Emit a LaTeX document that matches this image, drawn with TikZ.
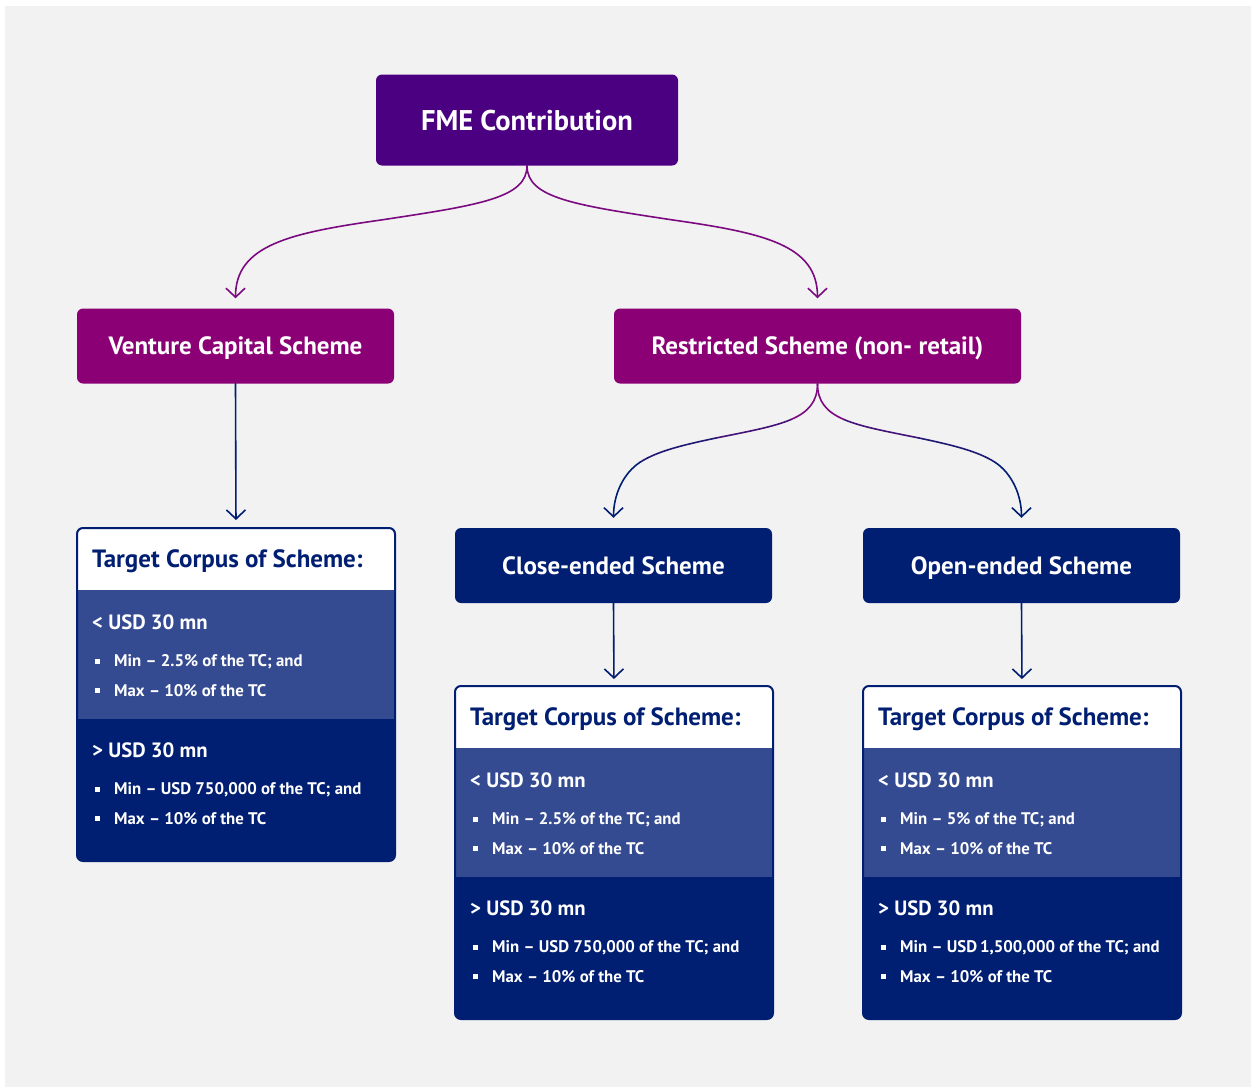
\documentclass[tikz,border=0pt]{standalone}
\usepackage{fontspec}
\setmainfont{PT Sans}
\usetikzlibrary{arrows.meta,positioning}

\definecolor{bggrey}{HTML}{F2F2F2}
\definecolor{fmeviolet}{HTML}{4B0082}
\definecolor{schemepurple}{HTML}{8B0075}
\definecolor{linkpurple}{HTML}{7B0A80}
\definecolor{navy}{HTML}{001E72}
\definecolor{lightnavy}{HTML}{354B91}

\tikzset{
  boxtext/.style={text=white, font=\bfseries\fontsize{25}{29}\selectfont, align=center, text depth=0pt},
  fmebox/.style={boxtext, fill=fmeviolet, rounded corners=6pt, font=\bfseries\fontsize{28.5}{32}\selectfont},
  schemebox/.style={boxtext, rounded corners=6pt, minimum width=317pt, minimum height=75pt},
  headtext/.style={anchor=west, inner sep=0pt, text=navy, font=\bfseries\fontsize{25}{29}\selectfont},
  bandtext/.style={anchor=west, inner sep=0pt, text=white, font=\bfseries\fontsize{20.7}{24}\selectfont},
  itemtext/.style={anchor=west, inner sep=0pt, text=white, font=\bfseries\fontsize{16.8}{20}\selectfont},
  tip/.style={-{Straight Barb[length=9pt,width=19pt]}},
  link/.style={line width=1.6pt, line cap=round},
}

\begin{document}
\begin{tikzpicture}[x=1pt,y=-1pt]
  \fill[white] (0,0) rectangle (1251,1087);
  \fill[bggrey] (5,6) rectangle (1251,1087);
  \useasboundingbox (0,0) rectangle (1251,1087);

  % top levels
  \node[fmebox, minimum width=302pt, minimum height=91pt] (fme) at (527,120) {FME Contribution};
  \node[schemebox, fill=schemepurple] (vcs) at (235.5,346) {Venture Capital Scheme};
  \node[schemebox, fill=schemepurple, minimum width=407pt] (rss) at (817.5,346) {Restricted Scheme (non- retail)};
  \node[schemebox, fill=navy] (ces) at (613.5,565.5) {Close-ended Scheme};
  \node[schemebox, fill=navy] (oes) at (1021.5,565.5) {Open-ended Scheme};

  % target corpus boxes
  \foreach \nm/\xa/\ya/\mina/\minb in {vct/77/528/{2.5\%}/{USD 750,000},
                                      cet/455/686/{2.5\%}/{USD 750,000},
                                      oet/863/686/{5\%}/{USD\,1,500,000}} {
    \begin{scope}
      \clip[rounded corners=6pt] (\xa,\ya) rectangle ++(318,333);
      \fill[white] (\xa,\ya) rectangle ++(318,62);
      \fill[lightnavy] (\xa,\ya+62) rectangle ++(318,129);
      \fill[navy] (\xa,\ya+191) rectangle ++(318,142);
    \end{scope}
    \draw[navy, line width=2pt, rounded corners=6pt] (\xa,\ya) rectangle ++(318,333);
    \coordinate (\nm-top) at (\xa+159,\ya);
    \node[headtext] (\nm-head) at (\xa+15,\ya+33) {Target Corpus of Scheme:};
    \node[bandtext] (\nm-lo) at (\xa+15,\ya+94) {< USD 30 mn};
    \fill[white] (\xa+18,\ya+131) rectangle ++(4.5,4.5);
    \node[itemtext] (\nm-lo1) at (\xa+37,\ya+134) {Min -- \mina{} of the TC; and};
    \fill[white] (\xa+18,\ya+160) rectangle ++(4.5,4.5);
    \node[itemtext] (\nm-lo2) at (\xa+37,\ya+163) {Max -- 10\% of the TC};
    \node[bandtext] (\nm-hi) at (\xa+15,\ya+222) {> USD 30 mn};
    \fill[white] (\xa+18,\ya+259) rectangle ++(4.5,4.5);
    \node[itemtext] (\nm-hi1) at (\xa+37,\ya+262) {Min -- \minb{} of the TC; and};
    \fill[white] (\xa+18,\ya+288) rectangle ++(4.5,4.5);
    \node[itemtext] (\nm-hi2) at (\xa+37,\ya+291) {Max -- 10\% of the TC};
  }

  % links from FME
  \draw[link, linkpurple, tip, shorten >=10pt] (fme.south) .. controls (527,198) and (480,205) .. (381,220)
        .. controls (290,233) and (235.5,245) .. (vcs.north);
  \draw[link, linkpurple, tip, shorten >=10pt] (fme.south) .. controls (527,198) and (574,205) .. (673,220)
        .. controls (764,233) and (817.5,245) .. (rss.north);

  % links from restricted scheme
  \draw[link, linkpurple] (rss.south) .. controls (817.5,401.5) and (808.5,412) .. (791,419.5);
  \draw[link, linkpurple!55!navy] (791,419.5) .. controls (773.5,427) and (748,431.5) .. (716,438);
  \draw[link, linkpurple!25!navy] (716,438) .. controls (683,445) and (657.5,451) .. (640,462.25);
  \draw[link, navy, tip, shorten >=10pt] (640,462.25) .. controls (623,473.5) and (613.5,495) .. (ces.north);
  \draw[link, linkpurple] (rss.south) .. controls (817.5,401.5) and (826.5,412) .. (844,419.5);
  \draw[link, linkpurple!55!navy] (844,419.5) .. controls (861.5,427) and (887,431.5) .. (919,438);
  \draw[link, linkpurple!25!navy] (919,438) .. controls (952,445) and (977.5,451) .. (995,462.25);
  \draw[link, navy, tip, shorten >=10pt] (995,462.25) .. controls (1012,473.5) and (1021.5,495) .. (oes.north);

  % straight links
  \draw[link, navy, tip, shorten >=8pt] (vcs.south) -- (vct-top);
  \draw[link, navy, tip, shorten >=7pt] (ces.south) -- (cet-top);
  \draw[link, navy, tip, shorten >=7pt] (oes.south) -- (oet-top);
\end{tikzpicture}
\end{document}
